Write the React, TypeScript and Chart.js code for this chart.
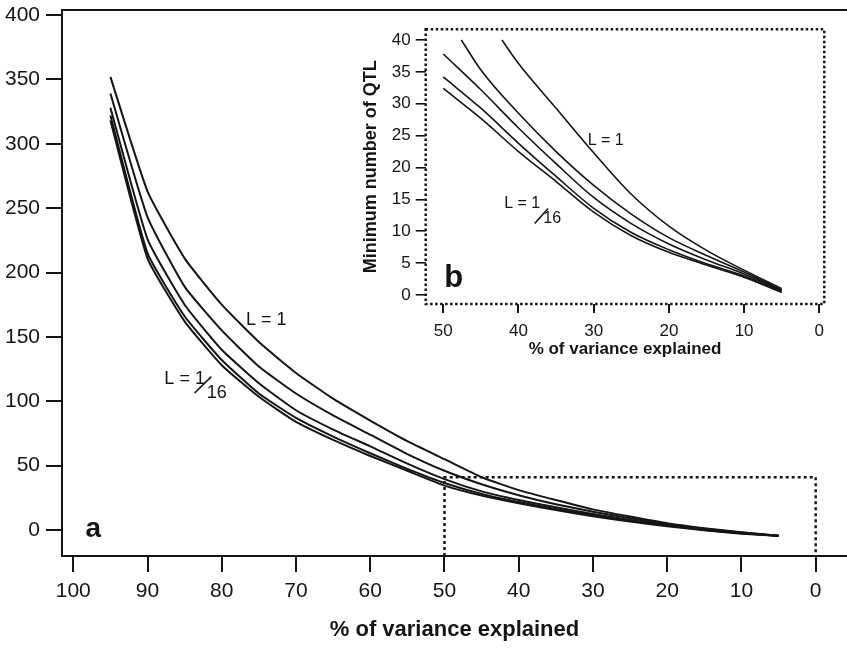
import React, { useEffect, useRef } from "react";
import { Chart, registerables } from "chart.js";

Chart.register(...registerables);

// ---------- Main panel (a) data ----------
const mainX = [95, 90, 85, 80, 75, 70, 65, 60, 55, 50, 45, 40, 35, 30, 25, 20, 15, 10, 5];
const mainL1 = [352, 263, 211, 175, 146, 122, 102, 85, 69, 55, 41, 31, 23.3, 16, 10.4, 5.2, 1.3, -1.8, -4.4];
const mainL2 = [339, 243, 189, 155, 127, 106, 89, 74, 59, 46, 35.5, 27, 20, 14.2, 9.1, 4.7, 1, -2, -4.4];
const mainL4 = [328, 226, 175, 140, 114, 93, 78, 65, 51.5, 39.5, 30, 23.3, 17.6, 12.4, 7.8, 3.9, 0.5, -2.3, -4.5];
const mainL8 = [322, 215, 166, 132, 106, 87, 72.5, 59.6, 47.5, 36.5, 28, 21.7, 16.3, 11.4, 7, 3.4, 0, -2.6, -4.5];
const mainL16 = [318, 211, 162, 128, 103.5, 84, 70, 57.5, 46, 34.5, 26.7, 20.7, 15.5, 10.6, 6.5, 2.9, -0.2, -2.9, -4.6];
const mainXTicks = [100, 90, 80, 70, 60, 50, 40, 30, 20, 10, 0];
const mainYTicks = [0, 50, 100, 150, 200, 250, 300, 350, 400];
// dotted box marking the inset region (x from 50 to 0, up to y = 41)
const zoomBoxX = [50, 0];
const zoomBoxTop = 41;

// ---------- Inset panel (b) data ----------
const insetXL1 = [42.2, 40, 35, 30, 25, 20, 15, 10, 5];
const insetL1 = [40, 36.3, 29.3, 22.3, 15.8, 10.8, 7.0, 3.9, 1.0];
const insetXL2 = [47.6, 45, 40, 35, 30, 25, 20, 15, 10, 5];
const insetL2 = [40, 35.3, 28.5, 22.5, 17.2, 12.7, 9.0, 6.2, 3.6, 0.8];
const insetX = [50, 45, 40, 35, 30, 25, 20, 15, 10, 5];
const insetL4 = [37.8, 32.2, 26.2, 20.6, 15.3, 11.2, 8.0, 5.5, 3.3, 0.7];
const insetL8 = [34.2, 29.3, 23.8, 18.6, 13.6, 9.8, 7.1, 4.9, 3.0, 0.6];
const insetL16 = [32.4, 27.7, 22.5, 17.8, 13.0, 9.3, 6.7, 4.7, 2.8, 0.4];
const insetXTicks = [50, 40, 30, 20, 10, 0];
const insetYTicks = [0, 5, 10, 15, 20, 25, 30, 35, 40];

const FONT = "'Liberation Sans', Arial, Helvetica, sans-serif";
const INK = "#151515";

const pts = (xs: number[], ys: number[]) => xs.map((x, i) => ({ x, y: ys[i] }));

function lineDs(label: string, data: { x: number; y: number }[], width: number, smooth: boolean) {
  return {
    label,
    data,
    borderColor: INK,
    borderWidth: width,
    pointRadius: 0,
    fill: false,
    tension: smooth ? 0.4 : 0.15,
    cubicInterpolationMode: smooth ? "monotone" : "default",
  };
}

function noPad(s: any) {
  s.paddingTop = 0;
  s.paddingBottom = 0;
  s.paddingLeft = 0;
  s.paddingRight = 0;
}

function drawFraction(ctx: CanvasRenderingContext2D, cx: number, cy: number, size: number, o: number[]) {
  // "L = 1" + "/" + "16"
  ctx.font = `${size}px ${FONT}`;
  ctx.textAlign = "center";
  ctx.textBaseline = "middle";
  ctx.fillText("L = 1", cx, cy);
  ctx.fillText("16", cx + o[0], cy + o[1]);
  ctx.lineWidth = 1.6;
  ctx.beginPath();
  ctx.moveTo(cx + o[2], cy + o[3]);
  ctx.lineTo(cx + o[4], cy + o[5]);
  ctx.stroke();
}

export default function App() {
  const mainRef = useRef<HTMLCanvasElement | null>(null);
  const insetRef = useRef<HTMLCanvasElement | null>(null);

  useEffect(() => {
    Chart.defaults.font.family = FONT;
    Chart.defaults.color = INK;

    const mainDecor = {
      id: "mainDecor",
      afterDatasetsDraw(chart: any) {
        const { ctx, chartArea, scales } = chart;
        const x = scales.x;
        const y = scales.y;
        ctx.save();
        ctx.strokeStyle = INK;
        ctx.fillStyle = INK;
        // top frame line
        ctx.lineWidth = 2;
        ctx.beginPath();
        ctx.moveTo(chartArea.left, chartArea.top);
        ctx.lineTo(chartArea.right, chartArea.top);
        ctx.stroke();
        // dotted box
        const xl = x.getPixelForValue(zoomBoxX[0]);
        const xr = x.getPixelForValue(zoomBoxX[1]);
        const yt = y.getPixelForValue(zoomBoxTop);
        const yb = chartArea.bottom;
        ctx.setLineDash([3, 3]);
        ctx.lineWidth = 2.5;
        ctx.beginPath();
        ctx.moveTo(xl, yb);
        ctx.lineTo(xl, yt);
        ctx.lineTo(xr, yt);
        ctx.lineTo(xr, yb);
        ctx.stroke();
        ctx.setLineDash([]);
        // labels
        ctx.font = `18px ${FONT}`;
        ctx.textAlign = "center";
        ctx.textBaseline = "middle";
        ctx.fillText("L = 1", x.getPixelForValue(74.0), y.getPixelForValue(163));
        drawFraction(ctx, x.getPixelForValue(85.0), y.getPixelForValue(117.3), 18, [32, 14, 10, 14, 26.7, -2.3]);
        ctx.font = `bold 28px ${FONT}`;
        ctx.fillText("a", x.getPixelForValue(97.3), y.getPixelForValue(0.4));
        ctx.restore();
      },
    };

    const insetDecor = {
      id: "insetDecor",
      afterDatasetsDraw(chart: any) {
        const { ctx, chartArea, scales } = chart;
        const x = scales.x;
        const y = scales.y;
        ctx.save();
        ctx.strokeStyle = INK;
        ctx.fillStyle = INK;
        ctx.setLineDash([2.5, 2.5]);
        ctx.lineWidth = 2.5;
        ctx.strokeRect(chartArea.left, chartArea.top, chartArea.right - chartArea.left, chartArea.bottom - chartArea.top);
        ctx.setLineDash([]);
        ctx.font = `16px ${FONT}`;
        ctx.textAlign = "center";
        ctx.textBaseline = "middle";
        ctx.fillText("L = 1", x.getPixelForValue(28.4), y.getPixelForValue(24.3));
        drawFraction(ctx, x.getPixelForValue(39.5), y.getPixelForValue(14.35), 16, [30, 15, 12.5, 20, 25.8, 5]);
        ctx.font = `bold 31px ${FONT}`;
        ctx.fillText("b", x.getPixelForValue(48.6), y.getPixelForValue(2.6));
        ctx.restore();
      },
    };

    const main = new Chart(mainRef.current as HTMLCanvasElement, {
      type: "line",
      data: {
        datasets: [
          lineDs("L = 1", pts(mainX, mainL1), 2, false),
          lineDs("L = 1/2", pts(mainX, mainL2), 2, false),
          lineDs("L = 1/4", pts(mainX, mainL4), 2, false),
          lineDs("L = 1/8", pts(mainX, mainL8), 2, false),
          lineDs("L = 1/16", pts(mainX, mainL16), 2, false),
        ],
      },
      options: {
        responsive: false,
        animation: false,
        events: [],
        layout: { padding: { top: 10, right: 0, left: 0, bottom: 0 } },
        plugins: { legend: { display: false }, tooltip: { enabled: false } },
        scales: {
          x: {
            type: "linear",
            reverse: true,
            min: -4.22,
            max: 101.52,
            afterBuildTicks: (s: any) => {
              s.ticks = mainXTicks.map((v) => ({ value: v }));
            },
            afterFit: (s: any) => {
              s.height = 92;
              noPad(s);
            },
            ticks: {
              autoSkip: false,
              maxRotation: 0,
              padding: 7,
              color: INK,
              font: { size: 21 },
            },
            grid: { drawOnChartArea: false, drawTicks: true, tickLength: 16, color: INK, lineWidth: 2 },
            border: { display: true, color: INK, width: 2 },
            title: {
              display: true,
              text: "% of variance explained",
              color: INK,
              font: { size: 22, weight: "bold" },
              padding: { top: 0, bottom: 5 },
            },
          },
          y: {
            type: "linear",
            min: -20.2,
            max: 403.9,
            afterBuildTicks: (s: any) => {
              s.ticks = mainYTicks.map((v) => ({ value: v }));
            },
            afterFit: (s: any) => {
              s.width = 62;
              noPad(s);
            },
            ticks: { padding: 6, color: INK, font: { size: 21 } },
            grid: { drawOnChartArea: false, drawTicks: true, tickLength: 16, color: INK, lineWidth: 2 },
            border: { display: true, color: INK, width: 2 },
          },
        },
      } as any,
      plugins: [mainDecor],
    });

    const inset = new Chart(insetRef.current as HTMLCanvasElement, {
      type: "line",
      data: {
        datasets: [
          lineDs("L = 1", pts(insetXL1, insetL1), 1.6, true),
          lineDs("L = 1/2", pts(insetXL2, insetL2), 1.6, true),
          lineDs("L = 1/4", pts(insetX, insetL4), 1.6, true),
          lineDs("L = 1/8", pts(insetX, insetL8), 1.6, true),
          lineDs("L = 1/16", pts(insetX, insetL16), 1.6, true),
        ],
      },
      options: {
        responsive: false,
        animation: false,
        events: [],
        layout: { padding: { top: 11.3, right: 15.7, left: 0, bottom: 0 } },
        plugins: { legend: { display: false }, tooltip: { enabled: false } },
        scales: {
          x: {
            type: "linear",
            reverse: true,
            min: -0.665,
            max: 52.34,
            afterBuildTicks: (s: any) => {
              s.ticks = insetXTicks.map((v) => ({ value: v }));
            },
            afterFit: (s: any) => {
              s.height = 66;
              noPad(s);
            },
            ticks: { autoSkip: false, maxRotation: 0, padding: 8, color: INK, font: { size: 17 } },
            grid: { drawOnChartArea: false, drawTicks: true, tickLength: 9, color: INK, lineWidth: 2 },
            border: { display: false },
            title: {
              display: true,
              text: "% of variance explained",
              color: INK,
              font: { size: 17, weight: "bold" },
              padding: { top: 0, bottom: 10 },
            },
          },
          y: {
            type: "linear",
            min: -1.41,
            max: 41.68,
            afterBuildTicks: (s: any) => {
              s.ticks = insetYTicks.map((v) => ({ value: v }));
            },
            afterFit: (s: any) => {
              s.width = 85.7;
              noPad(s);
            },
            ticks: { padding: 5, color: INK, font: { size: 17 } },
            grid: { drawOnChartArea: false, drawTicks: true, tickLength: 10, color: INK, lineWidth: 1.6 },
            border: { display: false },
            title: {
              display: true,
              text: "Minimum number of QTL",
              color: INK,
              font: { size: 18, weight: "bold" },
              padding: { top: 20, bottom: 0 },
            },
          },
        },
      } as any,
      plugins: [insetDecor],
    });

    return () => {
      main.destroy();
      inset.destroy();
    };
  }, []);

  return (
    <div style={{ position: "absolute", left: 0, top: 0, width: 847, height: 648, background: "#fff", overflow: "hidden" }}>
      <canvas ref={mainRef} width={847} height={648} style={{ position: "absolute", left: 0, top: 0 }} />
      <canvas ref={insetRef} width={500} height={352} style={{ position: "absolute", left: 340, top: 18 }} />
    </div>
  );
}
